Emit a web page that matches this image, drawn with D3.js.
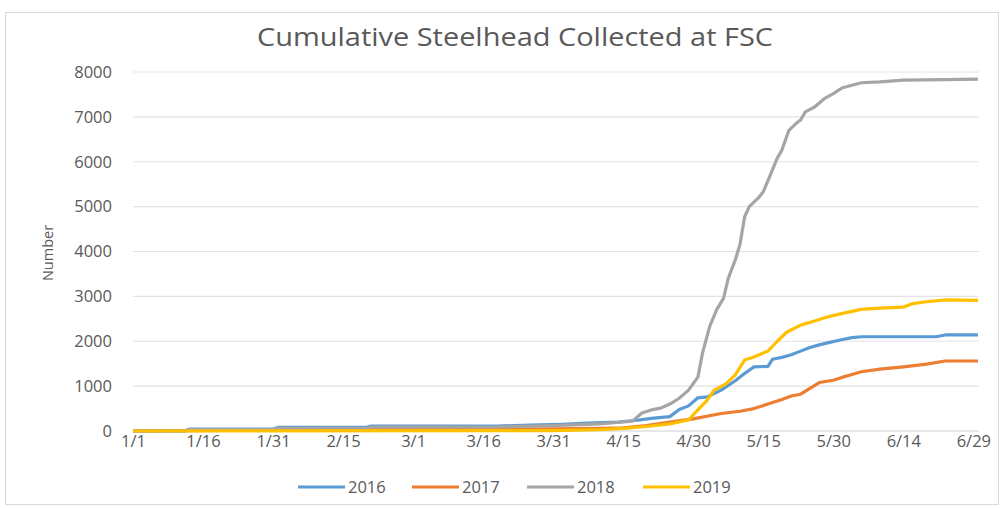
<!DOCTYPE html>
<html>
<head>
<meta charset="utf-8">
<script src="https://cdn.jsdelivr.net/npm/d3@7"></script>
<style>
  body { margin: 0; background: #fff; }
  svg { display: block; font-family: "Open Sans", "DejaVu Sans", sans-serif; }
</style>
</head>
<body>
<svg id="chartSvg" width="1004" height="508"></svg>
<script>
// x axis: day index from 1/1 (2016 calendar), labels every 15 days
const tickDays = [0, 15, 30, 45, 60, 75, 90, 105, 120, 135, 150, 165, 180];
const tickLabels = ["1/1", "1/16", "1/31", "2/15", "3/1", "3/16", "3/31", "4/15", "4/30", "5/15", "5/30", "6/14", "6/29"];
const yTicks = [0, 1000, 2000, 3000, 4000, 5000, 6000, 7000, 8000];
const years = ["2016", "2017", "2018", "2019"];

// cumulative counts, [day index, number]
const s2016 = [[0,0],[11,0],[12,40],[30,40],[31,80],[50,80],[51,110],[78,110],[85,130],[92,150],[96,170],[104,200],[108,240],[111,280],[115,320],[117,480],[119,560],[121,740],[123,760],[126,910],[129,1120],[131,1280],[133,1430],[136,1440],[137,1600],[139,1640],[141,1700],[143,1780],[145,1860],[147,1920],[149,1970],[152,2040],[154,2080],[156,2100],[172,2100],[174,2140],[181,2140]];
const s2017 = [[0,0],[12,10],[31,20],[51,30],[90,50],[100,60],[105,70],[110,120],[115,200],[120,270],[126,390],[130,440],[133,500],[136,600],[139,700],[141,780],[143,820],[145,950],[147,1080],[150,1130],[152,1200],[154,1260],[156,1320],[160,1380],[165,1430],[170,1490],[174,1560],[181,1560]];
const s2018 = [[0,0],[11,0],[12,30],[30,30],[31,60],[50,60],[51,85],[78,90],[90,120],[100,160],[105,200],[107,220],[109,400],[111,470],[113,510],[115,600],[117,730],[119,910],[121,1200],[122,1740],[123.5,2320],[125,2700],[126.5,2960],[127.5,3400],[129,3810],[130,4150],[131,4770],[132,5000],[134,5200],[135,5330],[136.5,5700],[138,6080],[139,6260],[140.5,6700],[142,6850],[143,6930],[144,7110],[146,7220],[148,7400],[150,7520],[152,7650],[156,7760],[160,7780],[165,7820],[174,7830],[181,7840]];
const s2019 = [[0,0],[90,10],[100,30],[105,60],[110,100],[115,160],[117,200],[119,245],[121,470],[123,690],[124.5,910],[127,1050],[129,1250],[131,1580],[133,1650],[136,1780],[138,2000],[140,2200],[143,2360],[146,2450],[149,2550],[152,2620],[156,2710],[160,2740],[165,2760],[167,2840],[170,2880],[174,2920],[181,2910]];

const seriesData = [s2016, s2017, s2018, s2019];
const colors = ["#5B9BD5", "#ED7D31", "#A5A5A5", "#FFC000"];

const svg = d3.select("#chartSvg");
const textColor = "#595959";
const fontFamily = "'Open Sans', 'DejaVu Sans', sans-serif";

// chart border
svg.append("rect")
  .attr("x", 5.5).attr("y", 12.5)
  .attr("width", 993).attr("height", 492)
  .attr("fill", "none")
  .attr("stroke", "#d9d9d9");

const x = d3.scaleLinear().domain([0, 181]).range([133, 978]);
const y = d3.scaleLinear().domain([0, 8000]).range([431, 72]);

// gridlines
svg.append("g")
  .selectAll("line")
  .data(yTicks)
  .enter()
  .append("line")
  .attr("x1", 133).attr("x2", 979)
  .attr("y1", d => y(d)).attr("y2", d => y(d))
  .attr("stroke", d => d === 0 ? "#d0d0d0" : "#e3e3e3")
  .attr("stroke-width", 1.2);

// y axis labels
const yAxis = svg.append("g")
  .attr("transform", "translate(133,0)")
  .call(d3.axisLeft(y).tickValues(yTicks).tickSize(0).tickPadding(21).tickFormat(d3.format("d")));
yAxis.attr("font-family", fontFamily);
yAxis.select(".domain").remove();
yAxis.selectAll("text")
  .attr("fill", textColor)
  .style("font-size", "16.5px");

// x axis labels
const xAxis = svg.append("g")
  .attr("transform", "translate(0,431)")
  .call(d3.axisBottom(x).tickValues(tickDays).tickSize(0).tickPadding(4)
    .tickFormat((d, i) => tickLabels[i]));
xAxis.attr("font-family", fontFamily);
xAxis.select(".domain").remove();
xAxis.selectAll("text")
  .attr("fill", textColor)
  .style("font-size", "16.5px");

// lines
const line = d3.line()
  .x(d => x(d[0]))
  .y(d => y(d[1]));

svg.append("g")
  .selectAll("path")
  .data(seriesData)
  .enter()
  .append("path")
  .attr("d", line)
  .attr("fill", "none")
  .attr("stroke", (d, i) => colors[i])
  .attr("stroke-width", 3.2)
  .attr("stroke-linejoin", "round");

// title
svg.append("text")
  .attr("x", 515).attr("y", 46)
  .attr("text-anchor", "middle")
  .attr("fill", textColor)
  .attr("textLength", 516)
  .attr("lengthAdjust", "spacingAndGlyphs")
  .style("font-size", "25px")
  .text("Cumulative Steelhead Collected at FSC");

// y axis title
svg.append("text")
  .attr("transform", "translate(53,253) rotate(-90)")
  .attr("text-anchor", "middle")
  .attr("fill", textColor)
  .style("font-size", "14.5px")
  .text("Number");

// legend
const legendX = [298, 412, 527, 643];
const legend = svg.append("g")
  .selectAll("g")
  .data(years)
  .enter()
  .append("g")
  .attr("transform", (d, i) => `translate(${legendX[i]},487)`);
legend.append("line")
  .attr("x1", 0).attr("x2", 47)
  .attr("stroke", (d, i) => colors[i])
  .attr("stroke-width", 3.2);
legend.append("text")
  .attr("x", 50).attr("dy", "0.35em")
  .attr("fill", textColor)
  .style("font-size", "16.5px")
  .text(d => d);
</script>
</body>
</html>
